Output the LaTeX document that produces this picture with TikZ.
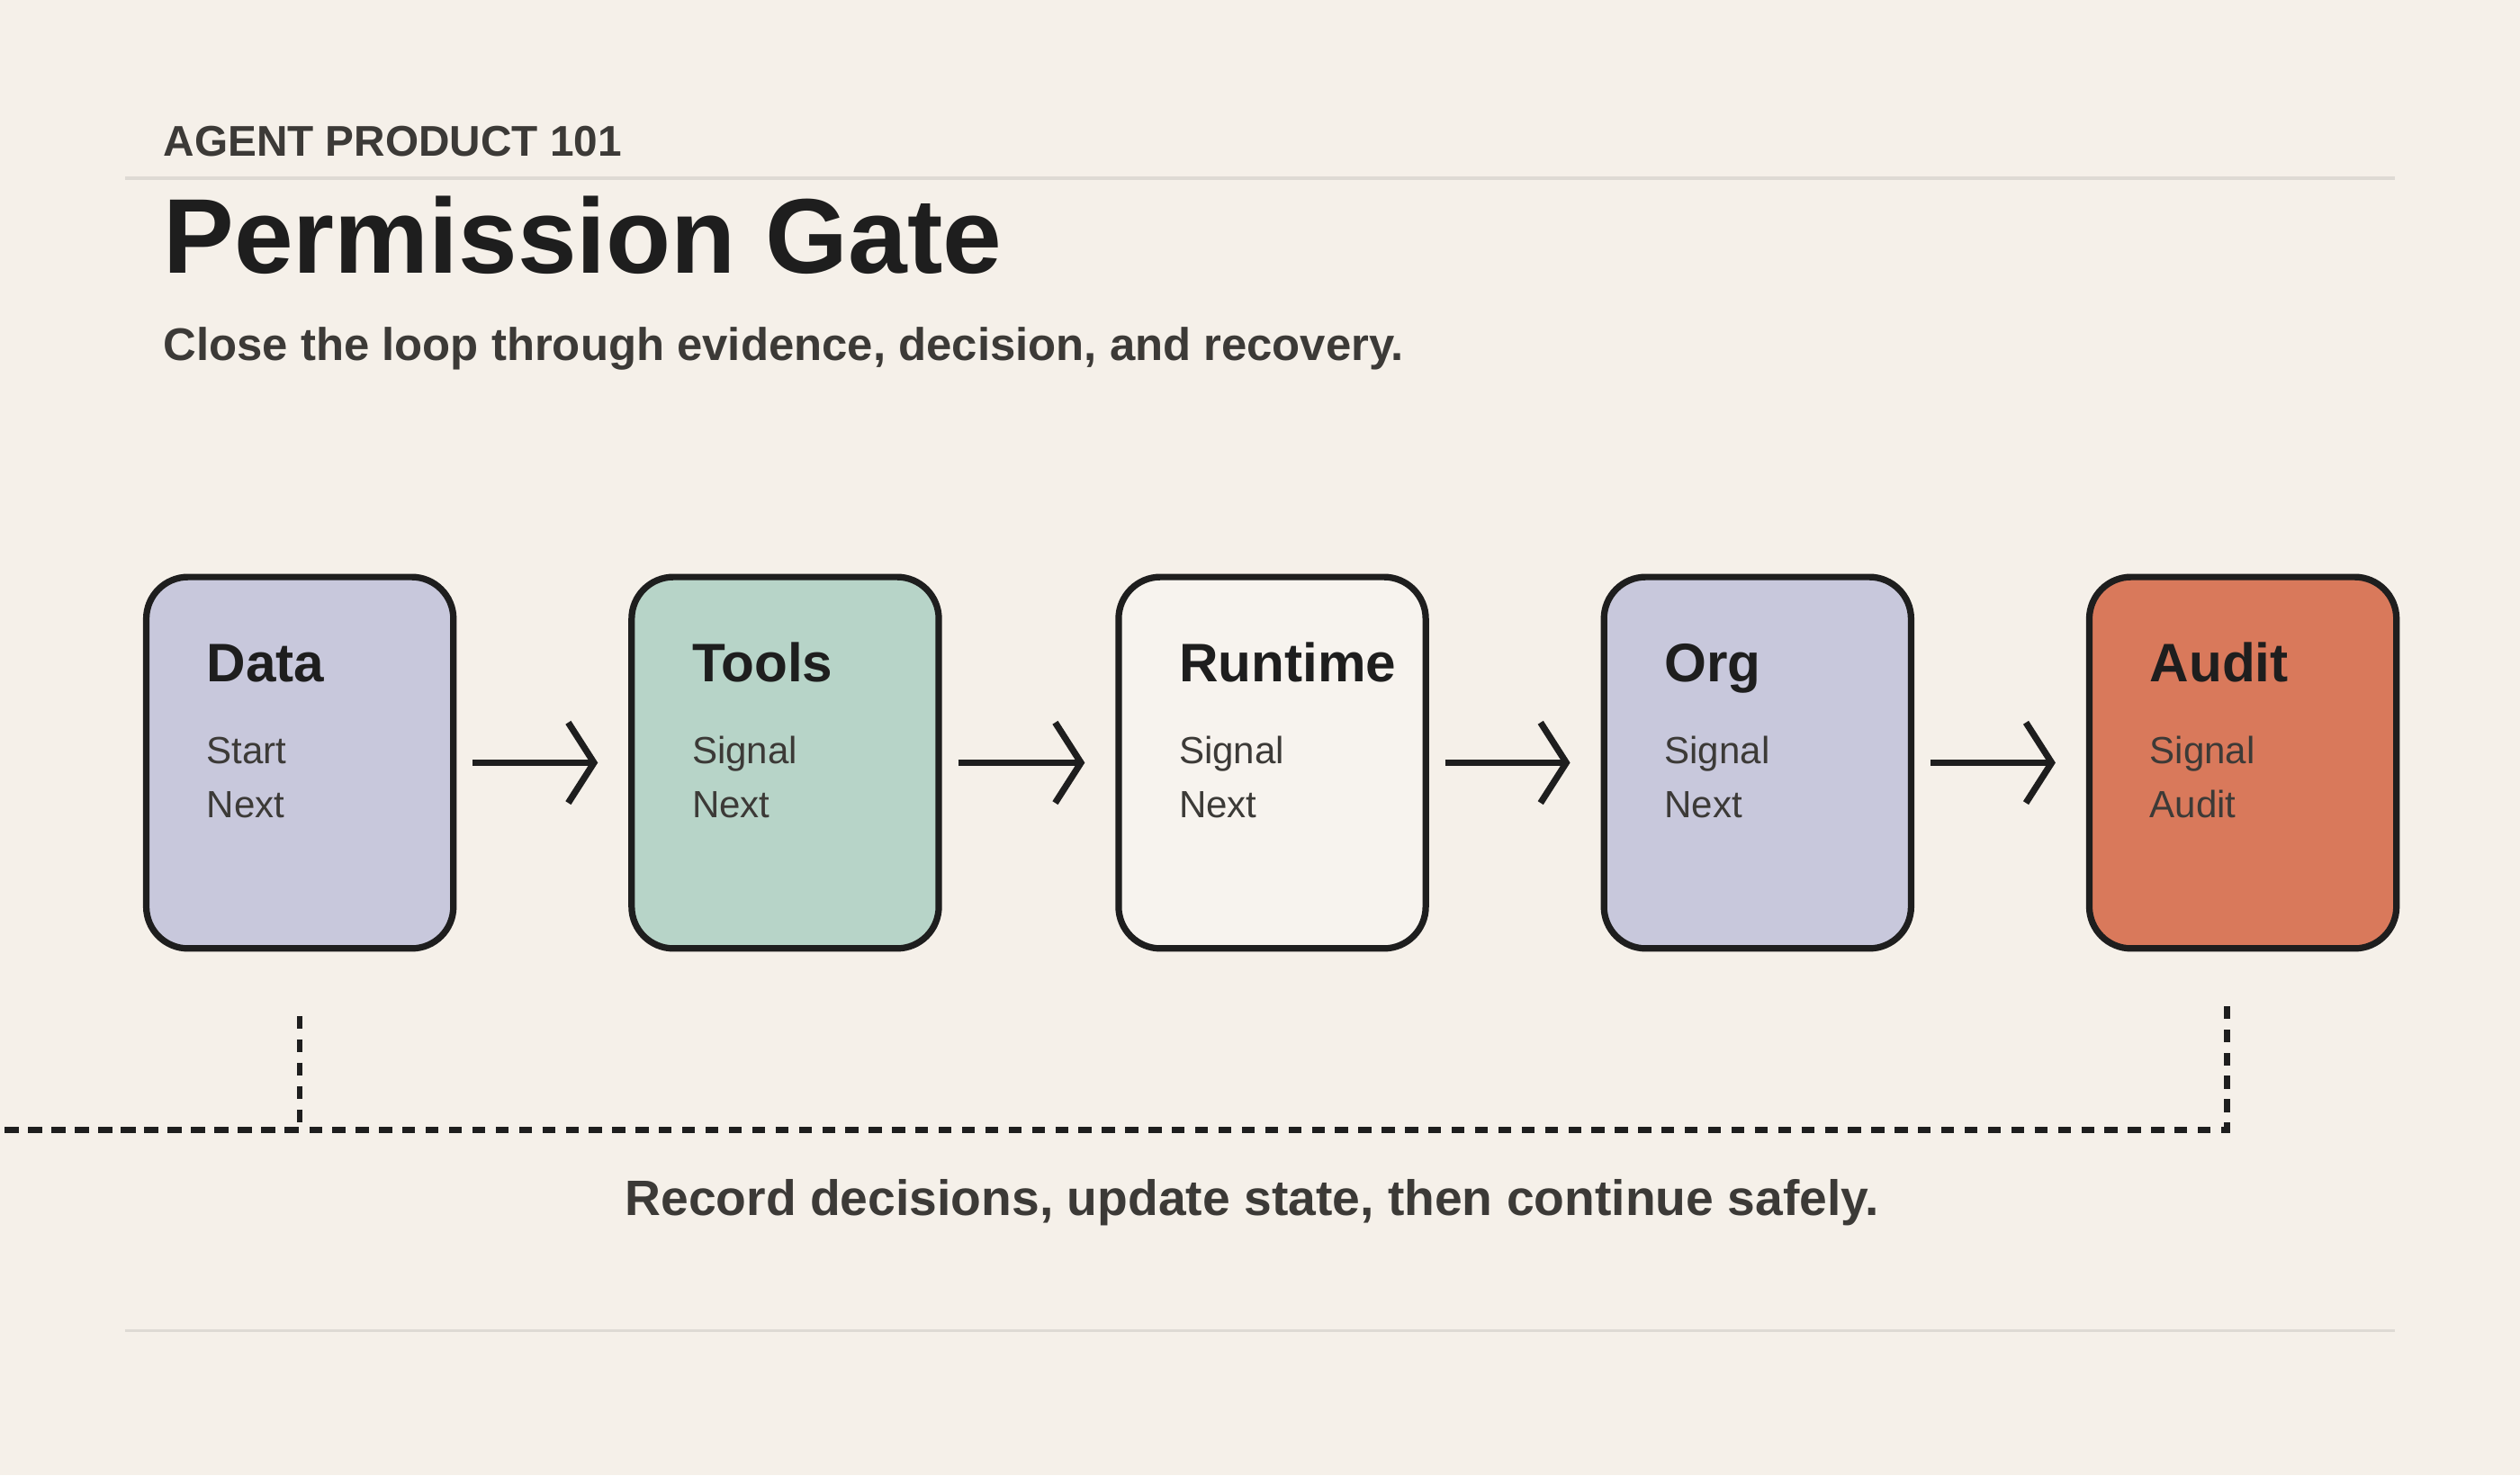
\documentclass[tikz,border=0pt]{standalone}
\usepackage{fontspec}
\setmainfont{Liberation Sans}
\usetikzlibrary{arrows.meta,positioning,calc}
\definecolor{paper}{HTML}{F5F0E9}
\definecolor{ink}{HTML}{1E1E1E}
\definecolor{inkgray}{HTML}{3C3A37}
\definecolor{rulegray}{HTML}{DEDAD4}
\definecolor{lavender}{HTML}{C8C8DC}
\definecolor{sage}{HTML}{B7D4C8}
\definecolor{cream}{HTML}{F7F3EE}
\definecolor{clay}{HTML}{D9795B}

\begin{document}
\begin{tikzpicture}[x=0.01cm,y=-0.01cm,
  stage/.style={draw=ink,line width=1.15pt,rounded corners=0.26cm,minimum width=1.91cm,minimum height=2.31cm,inner sep=0pt},
  stagetitle/.style={anchor=base west,inner sep=0pt,font=\fontsize{9.6}{11}\selectfont\bfseries,text=ink},
  stageline/.style={anchor=base west,inner sep=0pt,font=\fontsize{6.7}{8}\selectfont,text=inkgray},
  flow/.style={draw=ink,line width=1.15pt,-{Straight Barb[length=0.16cm,width=0.5cm,line width=1.15pt]},shorten <=0.1cm,shorten >=0.19cm},
  loopback/.style={draw=ink,line width=1.05pt,dash pattern=on 0.08cm off 0.065cm},
  rule/.style={draw=rulegray,line width=0.6pt}]
\fill[paper] (0,0) rectangle (1568,918);
\useasboundingbox (0,0) rectangle (1568,918);

% header
\node (kicker) [anchor=base west,inner sep=0pt,font=\fontsize{7.6}{9}\selectfont\bfseries,text=inkgray] at (101,97) {AGENT PRODUCT 101};
\coordinate (rule1a) at (78,111); \coordinate (rule1b) at (1490,111);
\draw[rule] (rule1a) -- (rule1b);
\node (title) [anchor=base west,inner sep=0pt,font=\fontsize{18.8}{22}\selectfont\bfseries,text=ink] at (101,170) {Permission Gate};
\node (subtitle) [anchor=base west,inner sep=0pt,font=\fontsize{8.1}{10}\selectfont\bfseries,text=inkgray] at (101,224) {Close the loop through evidence, decision, and recovery.};

% stages
\foreach \name/\x/\fillc/\head/\one/\two in {
  data/89/lavender/Data/Start/Next,
  tools/391/sage/Tools/Signal/Next,
  runtime/694/cream/Runtime/Signal/Next,
  org/996/lavender/Org/Signal/Next,
  audit/1298/clay/Audit/Signal/Audit}{
  \node (\name) [stage,fill=\fillc,anchor=north west] at (\x,357) {};
  \node (\name-head) [stagetitle] at ($(\name.north west)+(39,67)$) {\head};
  \node (\name-one) [stageline] at ($(\name.north west)+(39,118)$) {\one};
  \node (\name-two) [stageline] at ($(\name.north west)+(39,152)$) {\two};
}

\draw[flow] (data) -- (tools);
\draw[flow] (tools) -- (runtime);
\draw[flow] (runtime) -- (org);
\draw[flow] (org) -- (audit);

% feedback
\coordinate (loopstart) at ($(data.south)+(0,40)$);
\coordinate (loopend) at ($(audit.south)+(-10,34)$);
\draw[loopback] (loopstart) |- (0,703) -| (loopend);
\node (caption) [anchor=base,inner sep=0pt,font=\fontsize{8.8}{11}\selectfont\bfseries,text=inkgray] at (779,756) {Record decisions, update state, then continue safely.};

\coordinate (rule2a) at (78,828); \coordinate (rule2b) at (1490,828);
\draw[rule] (rule2a) -- (rule2b);
\end{tikzpicture}
\end{document}
